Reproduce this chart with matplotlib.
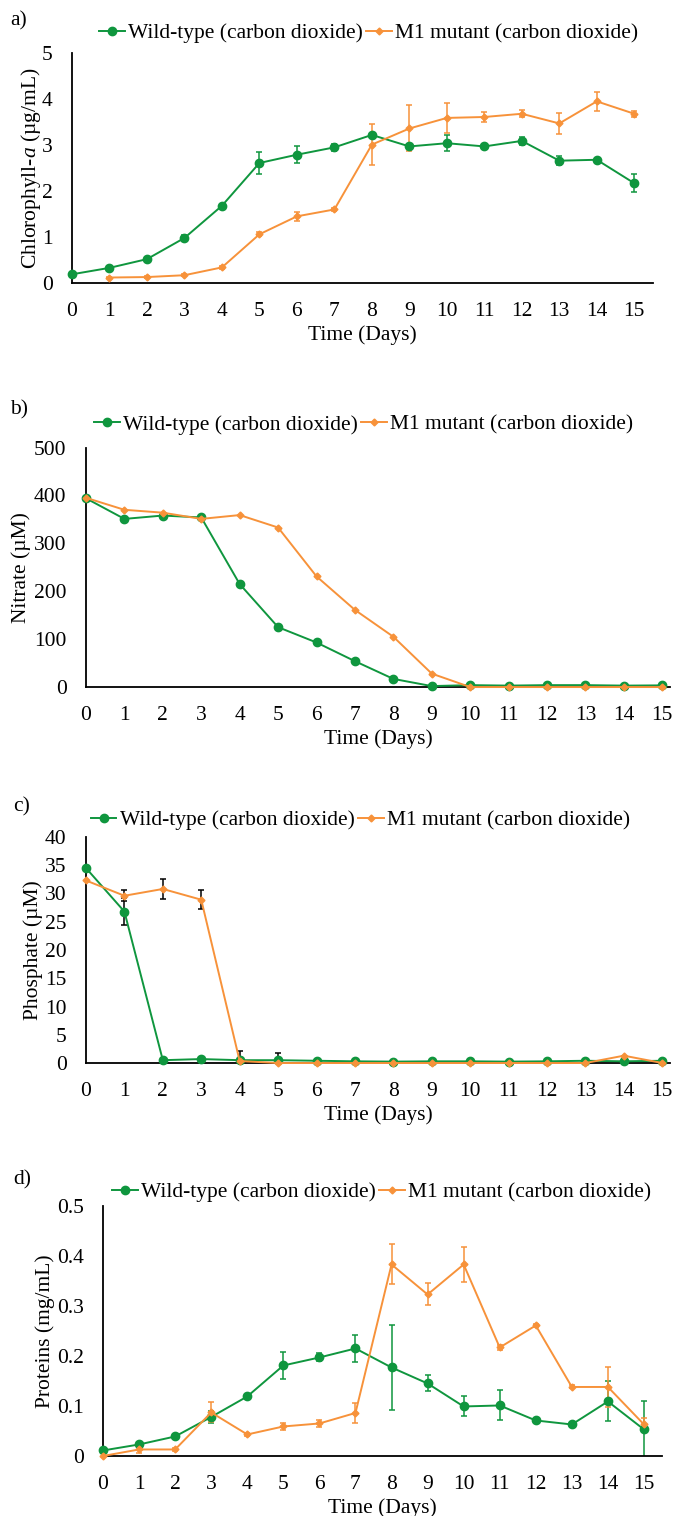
import numpy as np
import matplotlib
matplotlib.use("Agg")
import matplotlib.pyplot as plt

plt.rcParams['font.family'] = ['Liberation Serif', 'DejaVu Serif']
plt.rcParams['mathtext.fontset'] = 'custom'
plt.rcParams['mathtext.rm'] = 'Liberation Serif'
plt.rcParams['mathtext.it'] = 'Liberation Serif:italic'

days = list(range(16))
nan = np.nan

# a) chlorophyll-a (ug/mL)
chl_wt = [0.19, 0.33, 0.52, 0.98, 1.68, 2.61, 2.79, 2.95, 3.22, 2.97, 3.04, 2.97, 3.09, 2.66, 2.68, 2.17]
chl_wt_err = [0.03, 0.03, 0.04, 0.06, 0.04, 0.24, 0.18, 0.07, 0.05, 0.05, 0.17, 0.06, 0.08, 0.1, 0.04, 0.2]
chl_m1 = [nan, 0.12, 0.13, 0.17, 0.34, 1.06, 1.45, 1.6, 3.01, 3.36, 3.59, 3.61, 3.68, 3.47, 3.95, 3.68]
chl_m1_err = [0, 0.02, 0.02, 0.02, 0.04, 0.04, 0.1, 0.04, 0.45, 0.5, 0.33, 0.1, 0.08, 0.22, 0.2, 0.07]

# b) nitrate (uM)
no3_wt = [394, 351, 358, 354, 215, 125, 93, 54, 17, 2, 4, 3, 4, 4, 3, 3.5]
no3_m1 = [395, 370, 364, 351, 359, 333, 231, 161, 105, 28, 0, 0, 0, 0, 0, 0]

# c) phosphate (uM)
po4_wt = [34.5, 26.8, 0.5, 0.7, 0.5, 0.5, 0.4, 0.3, 0.25, 0.3, 0.3, 0.25, 0.3, 0.4, 0.3, 0.4]
po4_wt_err = [0, 2.4, 0.1, 0.1, 0, 0, 0, 0, 0, 0, 0, 0, 0, 0, 0, 0]
po4_m1 = [32.3, 29.6, 30.8, 28.9, 0.35, 0, 0, 0, 0, 0, 0, 0, 0, 0, 1.3, 0]
po4_m1_err = [0, 1.0, 1.7, 1.7, 1.7, 1.8, 0, 0, 0, 0, 0, 0, 0, 0, 0, 0]

# d) proteins (mg/mL)
prot_wt = [0.011, 0.023, 0.039, 0.078, 0.119, 0.181, 0.197, 0.215, 0.177, 0.145, 0.099, 0.101, 0.071, 0.063, 0.109, 0.053]
prot_wt_err = [0.003, 0.005, 0.004, 0.012, 0.004, 0.027, 0.008, 0.027, 0.085, 0.016, 0.02, 0.03, 0.005, 0.005, 0.04, 0.057]
prot_m1 = [0.0, 0.013, 0.013, 0.087, 0.043, 0.059, 0.065, 0.086, 0.383, 0.323, 0.383, 0.217, 0.261, 0.138, 0.138, 0.063]
prot_m1_err = [0.002, 0.007, 0.003, 0.02, 0.003, 0.007, 0.007, 0.02, 0.04, 0.022, 0.035, 0.005, 0.003, 0.003, 0.04, 0.012]

lab_wt = "Wild-type (carbon dioxide)"
lab_m1 = "M1 mutant (carbon dioxide)"
GREEN = '#0f963e'
ORANGE = '#f7923a'
FS = 15.5

fig = plt.figure(figsize=(6.76, 15.16), dpi=100)

panels = [
    # letter, wt, wt_err, m1, m1_err, ymax, yticks, ylabel, axes rect, xmax,
    # legend pos, letter pos, error colour, ylabel x (figure fraction)
    ('a)', chl_wt, chl_wt_err, chl_m1, chl_m1_err, 5, np.arange(0, 6, 1), 'Chlorophyll-$a$ (µg/mL)',
     [0.1065, 0.8133, 0.8595, 0.1517], 15.5, (0.545, 0.978), (0.015, 0.986), None, 0.064),
    ('b)', no3_wt, None, no3_m1, None, 500, np.arange(0, 501, 100), 'Nitrate (µM)',
     [0.1272, 0.5468, 0.8639, 0.1580], 15.2, (0.538, 0.7197), (0.015, 0.7296), None, 0.046),
    ('c)', po4_wt, po4_wt_err, po4_m1, po4_m1_err, 40, np.arange(0, 41, 5), 'Phosphate (µM)',
     [0.1272, 0.2988, 0.8639, 0.1491], 15.2, (0.533, 0.459), (0.02, 0.4677), 'black', 0.064),
    ('d)', prot_wt, prot_wt_err, prot_m1, prot_m1_err, 0.5, np.arange(0, 0.51, 0.1), 'Proteins (mg/mL)',
     [0.1524, 0.0396, 0.8269, 0.1649], 15.5, (0.565, 0.2137), (0.02, 0.2216), None, 0.081),
]

for (letter, wt, wt_err, m1, m1_err, ymax, yticks, ylabel, rect, xmax,
     legpos, letpos, ecol, ylab_x) in panels:
    ax = fig.add_axes(rect)
    if wt_err is not None:
        ax.errorbar(days, wt, yerr=wt_err, fmt='none', ecolor=ecol or GREEN,
                    elinewidth=1.1, capsize=2.2, capthick=1.1)
        ax.errorbar(days, m1, yerr=m1_err, fmt='none', ecolor=ecol or ORANGE,
                    elinewidth=1.1, capsize=2.2, capthick=1.1)
    ax.plot(days, wt, color=GREEN, lw=1.4, marker='o', ms=6, label=lab_wt, clip_on=False, zorder=3)
    ax.plot(days, m1, color=ORANGE, lw=1.4, marker='D', ms=3.5, label=lab_m1, clip_on=False, zorder=3)

    ax.set_xlim(0, xmax)
    ax.set_ylim(0, ymax)
    ax.set_xticks(days)
    ax.set_yticks(yticks)
    if ymax == 0.5:
        ax.set_yticklabels(['0'] + ['%.1f' % v for v in yticks[1:]])
    ax.tick_params(length=0, labelsize=FS)
    ax.tick_params(axis='x', pad=14)
    ax.tick_params(axis='y', pad=14)
    for s in ['top', 'right']:
        ax.spines[s].set_visible(False)
    for s in ['left', 'bottom']:
        ax.spines[s].set_linewidth(1.3)
        ax.spines[s].set_color('black')
    ax.set_xlabel('Time (Days)', fontsize=FS, labelpad=3)
    ax.set_ylabel(ylabel, fontsize=FS)
    ax.yaxis.set_label_coords((ylab_x - rect[0]) / rect[2], 0.5)

    ax.legend(loc='center', bbox_to_anchor=legpos, bbox_transform=fig.transFigure,
              ncol=2, frameon=False, fontsize=FS, handlelength=1.2, handletextpad=0.15,
              columnspacing=0.15, borderpad=0, borderaxespad=0)
    fig.text(letpos[0], letpos[1], letter, fontsize=FS, ha='left', va='center')

fig.savefig('out.png', dpi=100)
